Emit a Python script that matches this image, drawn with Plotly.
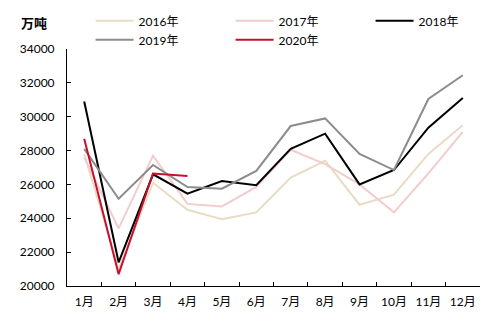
import plotly.graph_objects as go

months = ["1月", "2月", "3月", "4月", "5月", "6月", "7月", "8月", "9月", "10月", "11月", "12月"]
y2016 = [27800, 21000, 26100, 24500, 23950, 24350, 26400, 27400, 24800, 25400, 27800, 29500]
y2017 = [27600, 23400, 27700, 24850, 24700, 25850, 28050, 27200, 26000, 24350, 26650, 29100]
y2018 = [30900, 21400, 26600, 25450, 26200, 25950, 28100, 29000, 26000, 26850, 29350, 31100]
y2019 = [28100, 25150, 27150, 25850, 25750, 26800, 29450, 29900, 27800, 26850, 31050, 32450]
y2020 = [28700, 20700, 26650, 26500]
y_ticks = [20000, 22000, 24000, 26000, 28000, 30000, 32000, 34000]

series = [
    ("2016年", y2016, "#E8DCC4"),
    ("2017年", y2017, "#F2CDCD"),
    ("2018年", y2018, "#000000"),
    ("2019年", y2019, "#8C8C8C"),
    ("2020年", y2020, "#C8102E"),
]

font_family = "Lato, 'Noto Sans CJK SC', sans-serif"

fig = go.Figure()
for name, vals, color in series:
    fig.add_trace(go.Scatter(
        x=months[:len(vals)], y=vals, name=name, mode="lines",
        line=dict(color=color, width=2),
    ))

fig.update_layout(
    width=504, height=324,
    margin=dict(l=67, r=24, t=49, b=38, autoexpand=False),
    paper_bgcolor="white", plot_bgcolor="white",
    font=dict(family=font_family, size=12, color="#000000"),
    showlegend=True,
    legend=dict(
        orientation="h", x=1.074, xanchor="right",
        y=1.18, yanchor="top",
        itemwidth=38,
        entrywidth=87, entrywidthmode="pixels",
        font=dict(family=font_family, size=12),
        bgcolor="rgba(0,0,0,0)",
        traceorder="normal",
    ),
    xaxis=dict(
        type="category", categoryorder="array", categoryarray=months,
        showline=True, linecolor="#000000", linewidth=1,
        ticks="inside", ticklen=4, tickcolor="#000000",
        tickson="boundaries", showgrid=False, zeroline=False,
        tickfont=dict(size=12), tickangle=0, range=[-0.5, 11.5],
        ticklabelstandoff=5,
    ),
    yaxis=dict(
        range=[20000, 34000], tickvals=y_ticks, tickformat="d",
        showline=True, linecolor="#000000", linewidth=1,
        ticks="inside", ticklen=4, tickcolor="#000000",
        showgrid=False, zeroline=False, tickfont=dict(size=12),
        ticklabelstandoff=9,
    ),
    annotations=[dict(
        text="<b>万吨</b>", xref="paper", yref="paper",
        x=-0.117, y=1.11, xanchor="left", yanchor="middle",
        showarrow=False, font=dict(size=13),
    )],
)

fig.write_html("out.html")
